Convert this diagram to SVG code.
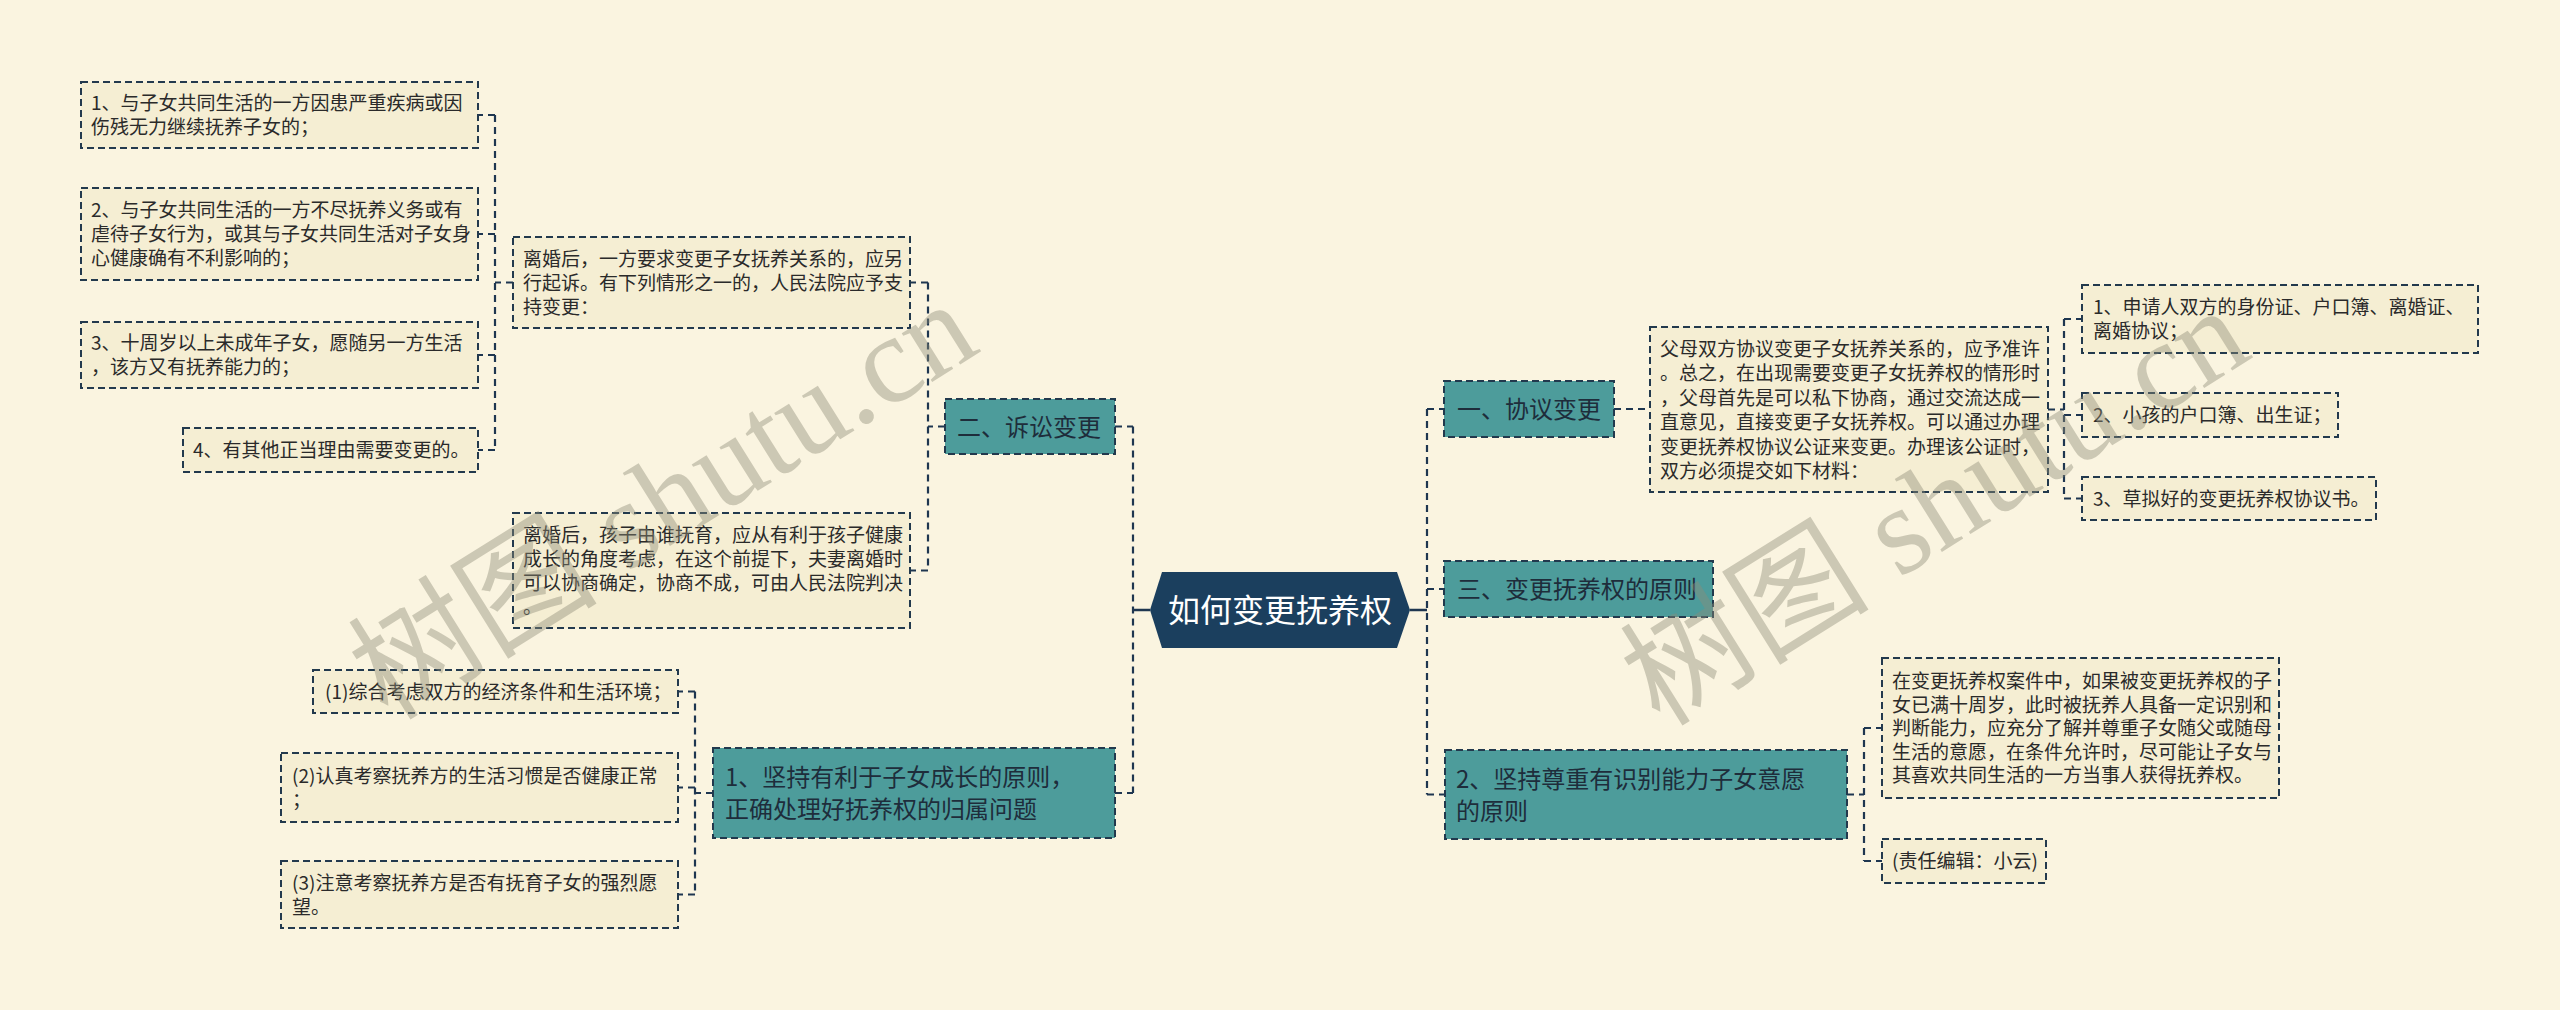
<svg xmlns="http://www.w3.org/2000/svg" width="2560" height="1010" viewBox="0 0 2560 1010">
<style>
text{font-family:"Noto Sans CJK SC","Liberation Sans",sans-serif}
.box{fill:#f5eed3;stroke:#22394d;stroke-width:2;stroke-dasharray:7 4}
.tl{fill:#4d9c9b;stroke:#22394d;stroke-width:2;stroke-dasharray:7 4}
.t{font-size:19px;fill:#2a2a2a}
.tt{font-size:24px;fill:#1e2d3b}
.c{fill:none;stroke:#1e3650;stroke-width:2.2;stroke-dasharray:7 5}
.s{fill:none;stroke:#1e3650;stroke-width:2.5}
.wm{font-family:"Liberation Serif","Noto Sans CJK SC",serif;font-size:125px;fill:#8f8c78;opacity:0.42}
</style>
<rect width="2560" height="1010" fill="#faf4e0"/>

<g id="connectors">
<path class="s" d="M1150 610H1133M1410 610H1427"/>
<path class="c" d="M1133 426.5V793M1115 426.5H1133M1115 793H1133"/>
<path class="c" d="M1427 409V794.5M1427 409H1444M1427 589H1444M1427 794.5H1445"/>
<path class="c" d="M945 426.5H928M928 282.5V570.5M928 282.5H910M928 570.5H910"/>
<path class="c" d="M513 282.5H495M495 115V450M495 115H478M495 234H478M495 355H478M495 450H478"/>
<path class="c" d="M713 793H695M695 691.5V894.5M695 691.5H678M695 787.5H678M695 894.5H678"/>
<path class="c" d="M1614 409H1650"/>
<path class="c" d="M2048 409.5H2064M2064 319V498.5M2064 319H2082M2064 415H2082M2064 498.5H2082"/>
<path class="c" d="M1847 794.5H1864M1864 728V861M1864 728H1882M1864 861H1882"/>
</g>

<g id="root">
<polygon points="1150,610 1162,572 1397,572 1410,610 1397,648 1162,648" fill="#1b3f5e"/>
<text x="1280" y="622" text-anchor="middle" style="font-size:32px;fill:#ffffff">如何变更抚养权</text>
</g>

<g id="n-er">
<rect class="tl" x="945" y="399" width="170" height="55"/>
<text class="tt" x="957" y="435.5">二、诉讼变更</text>
</g>
<g id="n-lihun1">
<rect class="box" x="513" y="237" width="397" height="91"/>
<text class="t" x="523" y="265.5">离婚后，一方要求变更子女抚养关系的，应另</text>
<text class="t" x="523" y="289.5">行起诉。有下列情形之一的，人民法院应予支</text>
<text class="t" x="523" y="313.5">持变更：</text>
</g>
<g id="n-lihun2">
<rect class="box" x="513" y="513" width="397" height="115"/>
<text class="t" x="523" y="541.5">离婚后，孩子由谁抚育，应从有利于孩子健康</text>
<text class="t" x="523" y="565.5">成长的角度考虑，在这个前提下，夫妻离婚时</text>
<text class="t" x="523" y="589.5">可以协商确定，协商不成，可由人民法院判决</text>
<text class="t" x="523" y="613.5">。</text>
</g>
<g id="n-q1">
<rect class="box" x="81" y="82" width="397" height="66"/>
<text class="t" x="91" y="110">1、与子女共同生活的一方因患严重疾病或因</text>
<text class="t" x="91" y="134">伤残无力继续抚养子女的；</text>
</g>
<g id="n-q2">
<rect class="box" x="81" y="188" width="397" height="92"/>
<text class="t" x="91" y="217">2、与子女共同生活的一方不尽抚养义务或有</text>
<text class="t" x="91" y="241">虐待子女行为，或其与子女共同生活对子女身</text>
<text class="t" x="91" y="265">心健康确有不利影响的；</text>
</g>
<g id="n-q3">
<rect class="box" x="81" y="322" width="397" height="66"/>
<text class="t" x="91" y="350">3、十周岁以上未成年子女，愿随另一方生活</text>
<text class="t" x="91" y="374">，该方又有抚养能力的；</text>
</g>
<g id="n-q4">
<rect class="box" x="183" y="428" width="295" height="44"/>
<text class="t" x="193" y="457">4、有其他正当理由需要变更的。</text>
</g>

<g id="n-p1">
<rect class="tl" x="713" y="748" width="402" height="90"/>
<text class="tt" x="725" y="786">1、坚持有利于子女成长的原则，</text>
<text class="tt" x="725" y="818">正确处理好抚养权的归属问题</text>
</g>
<g id="n-p1a">
<rect class="box" x="313" y="670" width="365" height="43"/>
<text class="t" x="325" y="698.5">(1)综合考虑双方的经济条件和生活环境；</text>
</g>
<g id="n-p1b">
<rect class="box" x="281" y="753" width="397" height="69"/>
<text class="t" x="292" y="782.5">(2)认真考察抚养方的生活习惯是否健康正常</text>
<text class="t" x="292" y="806.5">；</text>
</g>
<g id="n-p1c">
<rect class="box" x="281" y="861" width="397" height="67"/>
<text class="t" x="292" y="889.5">(3)注意考察抚养方是否有抚育子女的强烈愿</text>
<text class="t" x="292" y="913.5">望。</text>
</g>

<g id="n-yi">
<rect class="tl" x="1444" y="381" width="170" height="56"/>
<text class="tt" x="1457" y="418">一、协议变更</text>
</g>
<g id="n-fumu">
<rect class="box" x="1650" y="327" width="398" height="165"/>
<text class="t" x="1660" y="355.5">父母双方协议变更子女抚养关系的，应予准许</text>
<text class="t" x="1660" y="380">。总之，在出现需要变更子女抚养权的情形时</text>
<text class="t" x="1660" y="404.5">，父母首先是可以私下协商，通过交流达成一</text>
<text class="t" x="1660" y="429">直意见，直接变更子女抚养权。可以通过办理</text>
<text class="t" x="1660" y="453.5">变更抚养权协议公证来变更。办理该公证时，</text>
<text class="t" x="1660" y="478">双方必须提交如下材料：</text>
</g>
<g id="n-m1">
<rect class="box" x="2082" y="285" width="396" height="68"/>
<text class="t" x="2093" y="314">1、申请人双方的身份证、户口簿、离婚证、</text>
<text class="t" x="2093" y="338">离婚协议；</text>
</g>
<g id="n-m2">
<rect class="box" x="2082" y="393" width="256" height="44"/>
<text class="t" x="2093" y="422">2、小孩的户口簿、出生证；</text>
</g>
<g id="n-m3">
<rect class="box" x="2082" y="477" width="294" height="43"/>
<text class="t" x="2093" y="505.5">3、草拟好的变更抚养权协议书。</text>
</g>

<g id="n-san">
<rect class="tl" x="1444" y="561" width="269" height="56"/>
<text class="tt" x="1457" y="598">三、变更抚养权的原则</text>
</g>

<g id="n-p2">
<rect class="tl" x="1445" y="750" width="402" height="89"/>
<text class="tt" x="1456" y="787.5">2、坚持尊重有识别能力子女意愿</text>
<text class="tt" x="1456" y="819.5">的原则</text>
</g>
<g id="n-p2a">
<rect class="box" x="1882" y="658" width="397" height="140"/>
<text class="t" x="1892" y="688">在变更抚养权案件中，如果被变更抚养权的子</text>
<text class="t" x="1892" y="711.5">女已满十周岁，此时被抚养人具备一定识别和</text>
<text class="t" x="1892" y="735">判断能力，应充分了解并尊重子女随父或随母</text>
<text class="t" x="1892" y="758.5">生活的意愿，在条件允许时，尽可能让子女与</text>
<text class="t" x="1892" y="782">其喜欢共同生活的一方当事人获得抚养权。</text>
</g>
<g id="n-p2b">
<rect class="box" x="1882" y="839" width="164" height="44"/>
<text class="t" x="1892" y="868">(责任编辑：小云)</text>
</g>

<g id="watermark">
<text class="wm" transform="translate(388,722) rotate(-32)">树图 shutu.cn</text>
<text class="wm" transform="translate(1660,728) rotate(-32)">树图 shutu.cn</text>
</g>
</svg>
